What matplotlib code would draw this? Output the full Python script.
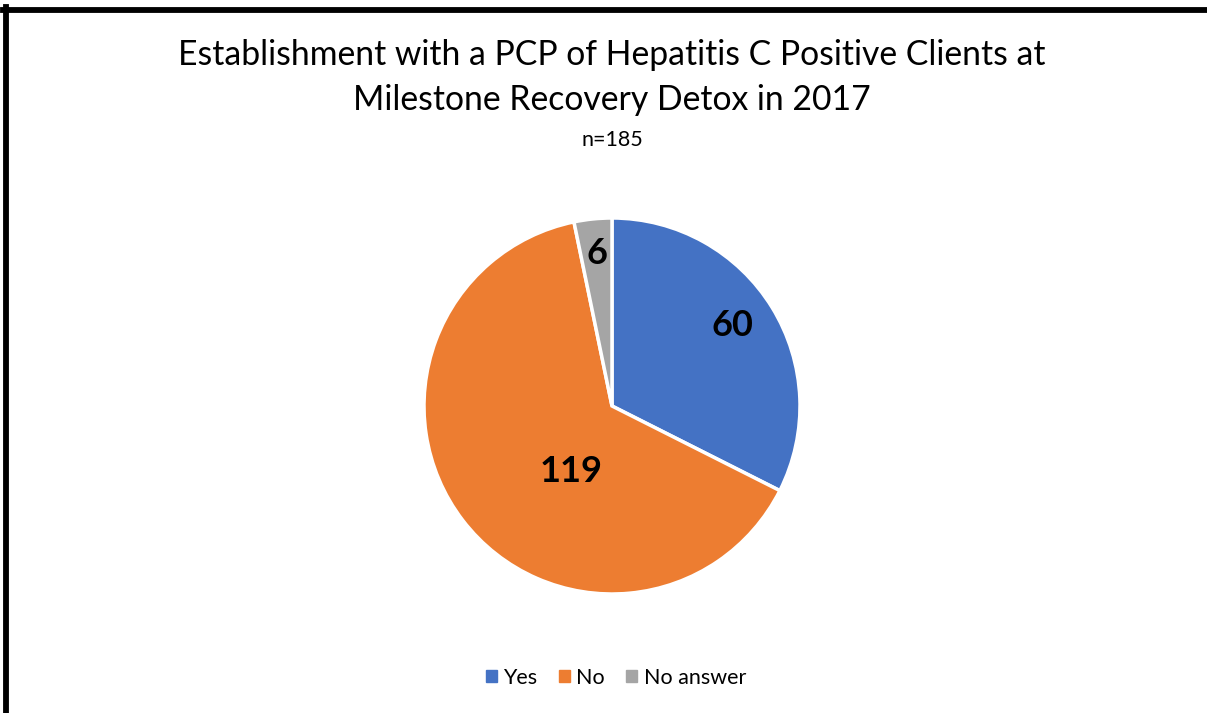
import matplotlib.pyplot as plt
from matplotlib.lines import Line2D

# Data
categories = ['Yes', 'No', 'No answer']
counts = [60, 119, 6]
colors = ['#4472C4', '#ED7D31', '#A5A5A5']
# label positions (pie radius = 1)
label_xy = [(0.64, 0.43), (-0.22, -0.35), (-0.08, 0.81)]

plt.rcParams['font.family'] = ['Lato', 'DejaVu Sans']

W, H = 1207, 713
fig = plt.figure(figsize=(W / 100, H / 100), dpi=100)

# pie axes
cx, cy, r = 612, 406, 188
ax = fig.add_axes([(cx - r) / W, (H - cy - r) / H, 2 * r / W, 2 * r / H])
wedges, _ = ax.pie(counts, colors=colors, startangle=90, counterclock=False,
                   radius=1, wedgeprops=dict(edgecolor='white', linewidth=2.5))
for (x, y), v in zip(label_xy, counts):
    ax.text(x, y, str(v), ha='center', va='center', fontsize=26,
            fontweight='bold', color='black')
ax.set_xlim(-1.0, 1.0)
ax.set_ylim(-1.0, 1.0)
ax.set_aspect('equal')
ax.axis('off')

# Title
fig.text(612 / W, 1 - 55 / H, 'Establishment with a PCP of Hepatitis C Positive Clients at',
         ha='center', va='center', fontsize=24.3)
fig.text(612 / W, 1 - 100 / H, 'Milestone Recovery Detox in 2017',
         ha='center', va='center', fontsize=24.3)
fig.text(612 / W, 1 - 140 / H, 'n=185', ha='center', va='center', fontsize=15.5)

# Legend
handles = [plt.Rectangle((0, 0), 1, 1, color=c) for c in colors]
fig.legend(handles, categories, loc='center', bbox_to_anchor=(616 / W, 1 - 678 / H),
           ncol=3, frameon=False, fontsize=15.5, handlelength=0.5, handleheight=0.5,
           handletextpad=0.3, columnspacing=1.0)

# chart border (left and top visible)
fig.add_artist(Line2D([5.5 / W, 5.5 / W], [0, 1 - 7 / H], color='black', linewidth=4.2,
                      transform=fig.transFigure, solid_capstyle='projecting'))
fig.add_artist(Line2D([3 / W, 1], [1 - 9.5 / H, 1 - 9.5 / H], color='black', linewidth=4.2,
                      transform=fig.transFigure, solid_capstyle='projecting'))

fig.savefig('out.png', dpi=100, facecolor='white')
